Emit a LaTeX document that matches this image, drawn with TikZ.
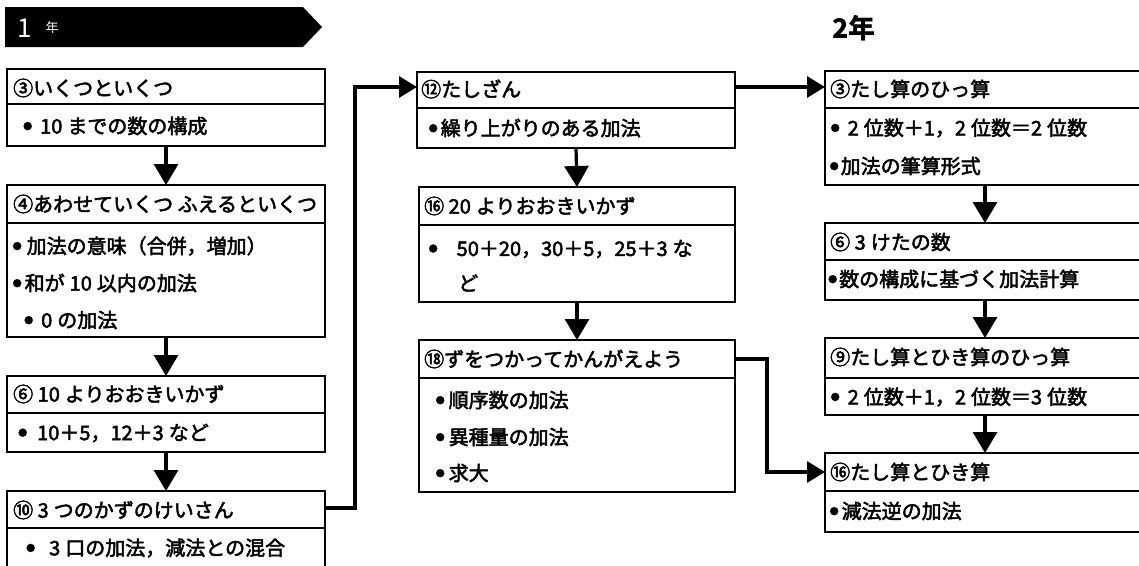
\documentclass[tikz,border=0pt]{standalone}
\usepackage{fontspec}
\setmainfont{Noto Sans CJK JP}
\newfontfamily\jp{Noto Sans CJK JP}[FakeBold=2.5]
\usetikzlibrary{arrows.meta}
\newcommand\ks{\hspace{0.25em}}
\newcommand\bul{\raisebox{4pt}{\fontsize{9}{9}\selectfont ●}}
\tikzset{
  box/.style={draw, line width=1.6pt, anchor=north west, inner sep=0pt, outer sep=0pt},
  thickbox/.style={box, line width=2.8pt},
  div/.style={line width=1.2pt},
  ttl/.style={anchor=west, inner sep=0pt, font=\jp\fontsize{20}{22}\selectfont},
  itm/.style={anchor=west, inner sep=0pt, font=\jp\fontsize{20}{22}\selectfont},
  conn/.style={line width=3.2pt, -{Triangle[width=24pt,length=21pt]}},
  hconn/.style={line width=3.2pt, -{Triangle[width=21pt,length=18pt]}},
}
\begin{document}
\begin{tikzpicture}[x=1pt,y=-1pt]
\useasboundingbox (0,0) rectangle (1139,565);
\clip (0,0) rectangle (1139,565);
% headers
\fill (5,7) -- (303,7) -- (322,27) -- (303,47) -- (5,47) -- cycle;
\node[text=white, inner sep=0pt, font=\fontsize{26}{26}\selectfont] (h1) at (25,28) {1};
\node[text=white, inner sep=0pt, font=\fontsize{13}{13}\selectfont] (h1b) at (52,28) {年};
\node[anchor=west, inner sep=0pt, font=\fontsize{27}{27}\selectfont\bfseries] (h2) at (832,28) {2年};
% left column
\node[box, minimum width=318pt, minimum height=77pt] (b1) at (7,69) {};
\draw[div] (b1.west |- 0,104) -- (b1.east |- 0,104);
\node[ttl] (t1) at (13,88) {③いくつといくつ};
\node[itm] (i1a) at (23,126) {\bul\hspace{8pt}10\ks までの数の構成};

\node[box, minimum width=318pt, minimum height=152pt] (b2) at (7,185) {};
\draw[div] (b2.west |- 0,223) -- (b2.east |- 0,223);
\node[ttl] (t2) at (13,204) {④あわせていくつ ふえるといくつ};
\node[itm] (i2a) at (12.5,246) {\bul\hspace{5pt}加法の意味（合併，増加）};
\node[itm] (i2b) at (12.5,283) {\bul\hspace{3pt}和が\ks 10\ks 以内の加法};
\node[itm] (i2c) at (24,320) {\bul\hspace{8pt}0\ks の加法};

\node[box, minimum width=318pt, minimum height=76pt] (b3) at (7,376) {};
\draw[div] (b3.west |- 0,413) -- (b3.east |- 0,413);
\node[ttl] (t3) at (13,394) {⑥ 10\ks よりおおきいかず};
\node[itm] (i3a) at (18,433) {\bul\hspace{10pt}10＋5，12＋3\ks など};

\node[box, minimum width=318pt, minimum height=110pt] (b4) at (7,491) {};
\draw[div] (b4.west |- 0,528) -- (b4.east |- 0,528);
\node[ttl] (t4) at (13,510) {⑩ 3\ks つのかずのけいさん};
\node[itm] (i4a) at (26,548) {\bul\hspace{14pt}3\ks 口の加法，減法との混合};

% middle column
\node[thickbox, minimum width=318pt, minimum height=76pt] (b12) at (417,72) {};
\draw[div] (b12.west |- 0,108) -- (b12.east |- 0,108);
\node[ttl] (t12) at (421,89) {⑫たしざん};
\node[itm] (i12a) at (428.5,128) {\bul\hspace{3pt}繰り上がりのある加法};

\node[box, minimum width=316pt, minimum height=115pt] (b16) at (419,187) {};
\draw[div] (b16.west |- 0,225) -- (b16.east |- 0,225);
\node[ttl] (t16) at (424,206) {⑯ 20\ks よりおおきいかず};
\node[itm] (i16a) at (428.5,249) {\bul\hspace{19pt}50＋20，30＋5，25＋3\ks な};
\node[itm] (i16b) at (458,283) {ど};

\node[box, minimum width=316pt, minimum height=152pt] (b18) at (419,340) {};
\draw[div] (b18.west |- 0,378) -- (b18.east |- 0,378);
\node[ttl] (t18) at (424,359) {⑱ずをつかってかんがえよう};
\node[itm] (i18a) at (435.5,400) {\bul\hspace{4pt}順序数の加法};
\node[itm] (i18b) at (435.5,437) {\bul\hspace{4pt}異種量の加法};
\node[itm] (i18c) at (435.5,473) {\bul\hspace{4pt}求大};

% right column
\node[box, minimum width=330pt, minimum height=114pt] (r3) at (825,71) {};
\draw[div] (r3.west |- 0,108) -- (r3.east |- 0,108);
\node[ttl] (tr3) at (830,89) {③たし算のひっ算};
\node[itm] (ir3a) at (830.5,128) {\bul\hspace{8pt}2\ks 位数＋1，2\ks 位数＝2\ks 位数};
\node[itm] (ir3b) at (829.5,166) {\bul\hspace{2pt}加法の筆算形式};

\node[box, minimum width=320pt, minimum height=77pt] (r6) at (825,223) {};
\draw[div] (r6.west |- 0,260) -- (r6.east |- 0,260);
\node[ttl] (tr6) at (830,242) {⑥ 3\ks けたの数};
\node[itm] (ir6a) at (828,279) {\bul\hspace{2pt}数の構成に基づく加法計算};

\node[box, minimum width=320pt, minimum height=77pt] (r9) at (825,338) {};
\draw[div] (r9.west |- 0,378) -- (r9.east |- 0,378);
\node[ttl] (tr9) at (830,357) {⑨たし算とひき算のひっ算};
\node[itm] (ir9a) at (830.5,397) {\bul\hspace{8pt}2\ks 位数＋1，2\ks 位数＝3\ks 位数};

\node[box, minimum width=320pt, minimum height=79pt] (r16) at (825,453) {};
\draw[div] (r16.west |- 0,491) -- (r16.east |- 0,491);
\node[ttl] (tr16) at (830,472) {⑯たし算とひき算};
\node[itm] (ir16a) at (829.5,511) {\bul\hspace{3pt}減法逆の加法};

% connectors
\draw[conn] (b1.south) -- (b2.north);
\draw[conn] (b2.south) -- (b3.north);
\draw[conn] (b3.south) -- (b4.north);
\draw[hconn] (b4.east |- 0,508) -- ++(30,0) |- (b12.west |- 0,87);
\draw[conn] (b12.south) -- (b16.north);
\draw[conn] (b16.south) -- (b18.north);
\draw[hconn] (b12.east |- 0,87) -- (r3.west |- 0,87);
\draw[hconn] (b18.east |- 0,359) -- ++(32,0) |- (r16.west |- 0,472);
\draw[conn] (r3.south -| r6.north) -- (r6.north);
\draw[conn] (r6.south) -- (r9.north);
\draw[conn] (r9.south) -- (r16.north);
\end{tikzpicture}
\end{document}
